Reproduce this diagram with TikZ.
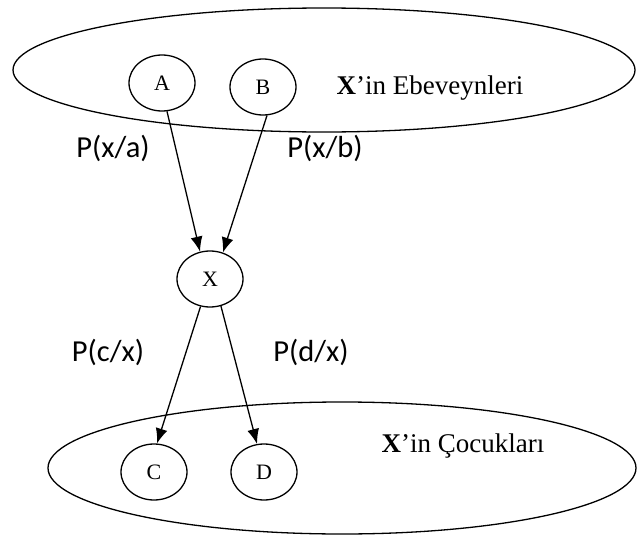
\documentclass[tikz,border=0pt]{standalone}
\usepackage{fontspec}
\setmainfont{Liberation Serif}
\newfontfamily\labelfont{Carlito}
\usetikzlibrary{arrows.meta, positioning, shapes.geometric}

\tikzset{
  var/.style={draw, ellipse, inner sep=0pt, minimum width=66pt, minimum height=56pt, font=\fontsize{22}{22}\selectfont},
  group/.style={draw, ellipse, inner sep=0pt},
  prob/.style={font=\labelfont\fontsize{30.5}{30.5}\selectfont},
  grouplabel/.style={font=\fontsize{27}{27}\selectfont}
}

\begin{document}
\begin{tikzpicture}[>={Latex[length=15pt,width=12pt]}, x=1pt, y=-1pt, line width=1.3pt]
  \useasboundingbox (0,0) rectangle (638,538);
  % parents
  \node[group, minimum width=622pt, minimum height=124pt] (parents) at (324,70) {};
  \node[var] (a) at (162,83) {A};
  \node[var] (b) at (263,87) {B};
  \node[grouplabel] (plabel) at (430,88) {\textbf{X}’in Ebeveynleri};
  % x
  \node[var] (x) at (210,279) {X};
  % children
  \node[group, minimum width=588pt, minimum height=132pt] (children) at (342,468) {};
  \node[var] (c) at (154,472) {C};
  \node[var] (d) at (264,472) {D};
  \node[grouplabel] (clabel) at (463,446) {\textbf{X}’in Çocukları};
  % edges
  \draw[->] (a.-80) -- (x.110);
  \draw[->] (b.-82) -- (x.64);
  \draw[->] (x.-109) -- (c.84);
  \draw[->] (x.-68) -- (d.104);
  \node[prob] (pxa) at (113,148) {P(x/a)};
  \node[prob] (pxb) at (325,148) {P(x/b)};
  \node[prob] (pcx) at (108,352) {P(c/x)};
  \node[prob] (pdx) at (311,352) {P(d/x)};
\end{tikzpicture}
\end{document}
